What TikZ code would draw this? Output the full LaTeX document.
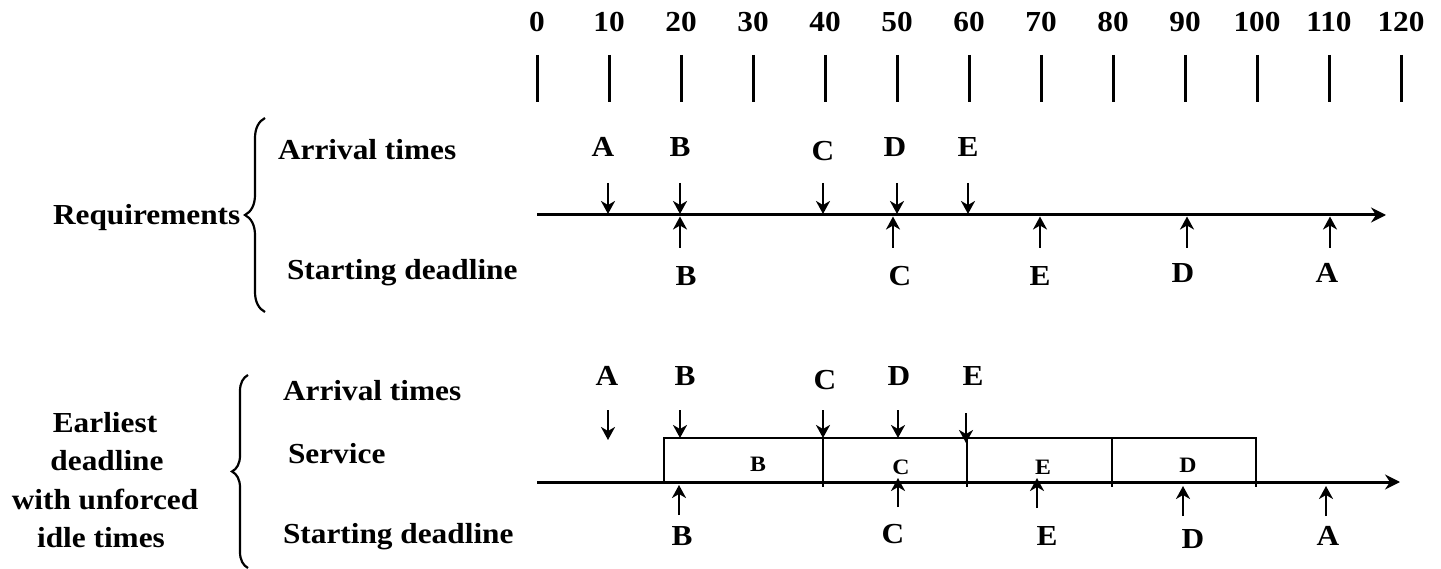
\documentclass[tikz,border=0pt]{standalone}
\usepackage{fontspec}
\setmainfont{Liberation Serif}[FakeStretch=1.08]
\usetikzlibrary{arrows.meta,decorations.pathreplacing}
\begin{document}
\begin{tikzpicture}[x=1pt,y=-1pt,
  lbl/.style={font=\fontsize{29}{34}\selectfont\bfseries, inner sep=0pt, outer sep=0pt},
  small/.style={font=\fontsize{22}{26}\selectfont\bfseries, inner sep=0pt, outer sep=0pt},
  tickline/.style={line width=3pt},
  axisline/.style={line width=3pt,-{Stealth[length=15pt,width=15pt,inset=5pt]}},
  arr/.style={line width=2.6pt,-{Stealth[length=13pt,width=14pt,inset=4pt]}},
  boxline/.style={line width=2.8pt},
  br/.style={line width=2.2pt, decorate, decoration={brace, amplitude=#1}}]
\useasboundingbox (0,0) rectangle (1441,569);

% time scale
\foreach \t in {0,...,12}{
  \pgfmathsetmacro{\xx}{537+72*\t}
  \pgfmathtruncatemacro{\v}{10*\t}
  \node[lbl, anchor=base] (tl\t) at (\xx,32) {\v};
  \coordinate (ts\t) at (\xx,55);
  \coordinate (te\t) at (\xx,102);
  \draw[tickline] (ts\t) -- (te\t);
}

% ---------- Requirements ----------
\node[lbl, anchor=base west] (req) at (53,225) {Requirements};
\draw[br=20pt] (265,312) coordinate (rb1) -- (265,118) coordinate (rb2);
\node[lbl, anchor=base west] (arr1) at (278,160) {Arrival times};
\node[lbl, anchor=base west] (sd1) at (287,280) {Starting deadline};

\coordinate (ax1s) at (537,215);
\coordinate (ax1e) at (1386,215);
\draw[axisline] (ax1s) -- (ax1e);

% arrivals (top)
\foreach \n/\x/\lx/\by in {A/608/603/157, B/680/680/157, C/823/823/161, D/897/895/157, E/968/968/157}{
  \node[lbl, anchor=base] (ra\n) at (\lx,\by) {\n};
  \coordinate (ras\n) at (\x,183);
  \coordinate (rae\n) at (\x,214);
  \draw[arr] (ras\n) -- (rae\n);
}
% deadlines (top)
\foreach \n/\x/\lx/\by in {B/680/686/286, C/893/900/286, E/1040/1040/286, D/1187/1183/283, A/1330/1327/283}{
  \node[lbl, anchor=base] (rd\n) at (\lx,\by) {\n};
  \coordinate (rds\n) at (\x,248);
  \coordinate (rde\n) at (\x,216.5);
  \draw[arr] (rds\n) -- (rde\n);
}

% ---------- Earliest deadline ----------
\node[lbl, anchor=base] (e1) at (105,432) {Earliest};
\node[lbl, anchor=base] (e2) at (107,470) {deadline};
\node[lbl, anchor=base] (e3) at (105,509) {with unforced};
\node[lbl, anchor=base] (e4) at (101,547) {idle times};
\draw[br=16pt] (248,568) coordinate (eb1) -- (248,375) coordinate (eb2);
\node[lbl, anchor=base west] (arr2) at (283,400) {Arrival times};
\node[lbl, anchor=base west] (srv) at (288,463) {Service};
\node[lbl, anchor=base west] (sd2) at (283,543) {Starting deadline};

\coordinate (ax2s) at (537,482);
\coordinate (ax2e) at (1400,482);
\draw[axisline] (ax2s) -- (ax2e);

% service boxes
\coordinate (bx1) at (664,482);
\coordinate (bx2) at (664,438);
\coordinate (bx3) at (1256,438);
\coordinate (bx4) at (1256,487);
\draw[boxline] (bx1) -- (bx2) -- (bx3) -- (bx4);
\foreach \x [count=\i] in {823,967,1112}{
  \coordinate (dvs\i) at (\x,438);
  \coordinate (dve\i) at (\x,487);
  \draw[boxline] (dvs\i) -- (dve\i);
}
\node[small] (sB) at (758,464.5) {B};
\node[small] (sC) at (901,467) {C};
\node[small] (sE) at (1043,467) {E};
\node[small] (sD) at (1188,465) {D};

% arrivals (bottom)
\foreach \n/\x/\lx/\by/\ys/\ye in {A/608/607/385/410/440, B/680/685/385/410/438, C/823/825/389/410/438, D/898/899/385/410/438, E/966/973/385/413/443}{
  \node[lbl, anchor=base] (ea\n) at (\lx,\by) {\n};
  \coordinate (eas\n) at (\x,\ys);
  \coordinate (eae\n) at (\x,\ye);
  \draw[arr] (eas\n) -- (eae\n);
}
% deadlines (bottom)
\foreach \n/\x/\lx/\by/\ys/\ye in {B/679/682/545/515/485, C/898/893/543/507/478, E/1037/1047/545/508/478, D/1183/1193/548/516/486, A/1326/1328/545/516/486}{
  \node[lbl, anchor=base] (ed\n) at (\lx,\by) {\n};
  \coordinate (eds\n) at (\x,\ys);
  \coordinate (ede\n) at (\x,\ye);
  \draw[arr] (eds\n) -- (ede\n);
}
\end{tikzpicture}
\end{document}
